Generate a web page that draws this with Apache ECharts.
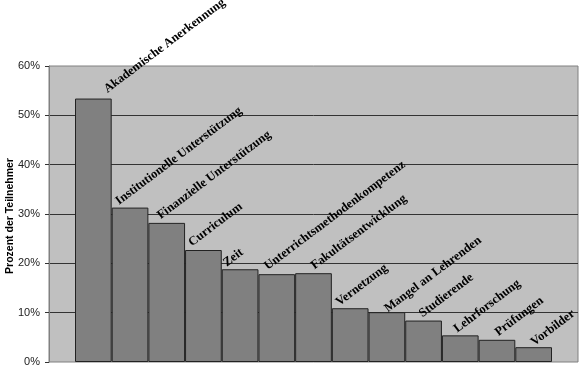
<!DOCTYPE html>
<html><head><meta charset="utf-8">
<script src="https://cdn.jsdelivr.net/npm/echarts/dist/echarts.min.js"></script>
<style>html,body{margin:0;padding:0;background:#fff}#c{width:581px;height:369px}</style>
</head><body><div id="c"></div>
<script>
const categories = ['Akademische Anerkennung','Institutionelle Unterstützung','Finanzielle Unterstützung','Curriculum','Zeit','Unterrichtsmethodenkompetenz','Fakultätsentwicklung','Vernetzung','Mangel an Lehrenden','Studierende','Lehrforschung','Prüfungen','Vorbilder'];
const values = [53.4, 31.3, 28.2, 22.7, 18.8, 17.8, 18.0, 10.9, 10.1, 8.4, 5.4, 4.5, 3.0];
const yMin = 0, yMax = 60, yStep = 10;
const yAxisTitle = 'Prozent der Teilnehmer';
// label nudges in screen pixels (layout only)
const labelNudge = [[16,-3],[-9,0],[-4,-1],[-9.5,-1],[-11.5,0],[-7,-1.5],[3,-1],[-9,0.5],[3,3],[1,-0.5],[-1,0],[3.5,-1],[2.5,1.5]];
const ROT = 37;

function toLocal(n){
  const t = ROT*Math.PI/180, c = Math.cos(t), s = Math.sin(t);
  return [n[0]*c - n[1]*s, n[0]*s + n[1]*c];
}

const chart = echarts.init(document.getElementById('c'), null, {renderer:'canvas'});
chart.setOption({
  animation:false,
  backgroundColor:'#fff',
  grid:[
    {left:49,right:3,top:66,bottom:7,show:true,backgroundColor:'#c0c0c0',borderColor:'#808080',borderWidth:1,outerBoundsMode:'none'},
    {left:75,right:29,top:66,bottom:7,outerBoundsMode:'none'}
  ],
  xAxis:[
    {gridIndex:0,type:'value',min:0,max:1,show:false},
    {gridIndex:1,type:'category',data:categories,show:false}
  ],
  yAxis:[
    {gridIndex:0,type:'value',min:yMin,max:yMax,interval:yStep,
     axisLine:{show:true,lineStyle:{color:'#808080',width:1}},
     axisTick:{show:true,length:4,lineStyle:{color:'#333'}},
     axisLabel:{formatter:'{value}%',fontSize:11,color:'#222',fontFamily:'Arial, Liberation Sans',margin:9},
     splitLine:{show:true,showMinLine:false,showMaxLine:false,lineStyle:{color:'#333',width:1}}},
    {gridIndex:1,type:'value',min:yMin,max:yMax,show:false,splitLine:{show:false}}
  ],
  graphic:[{type:'text',x:10,y:216,rotation:Math.PI/2,style:{text:yAxisTitle,fontSize:10.5,fontWeight:'bold',fontFamily:'Arial, Liberation Sans',fill:'#000',align:'center',verticalAlign:'middle'}}],
  series:[{
    type:'bar',xAxisIndex:1,yAxisIndex:1,barCategoryGap:0,
    itemStyle:{color:'#808080',borderColor:'#222',borderWidth:1},
    label:{show:true,position:'top',distance:0,rotate:ROT,align:'left',verticalAlign:'bottom',
      formatter:'{b}',fontFamily:'Times New Roman, Liberation Serif',fontWeight:'bold',fontSize:12.5,color:'#000'},
    data:values.map((v,i)=>({value:v,label:{offset:toLocal(labelNudge[i])}}))
  }]
});
</script></body></html>
